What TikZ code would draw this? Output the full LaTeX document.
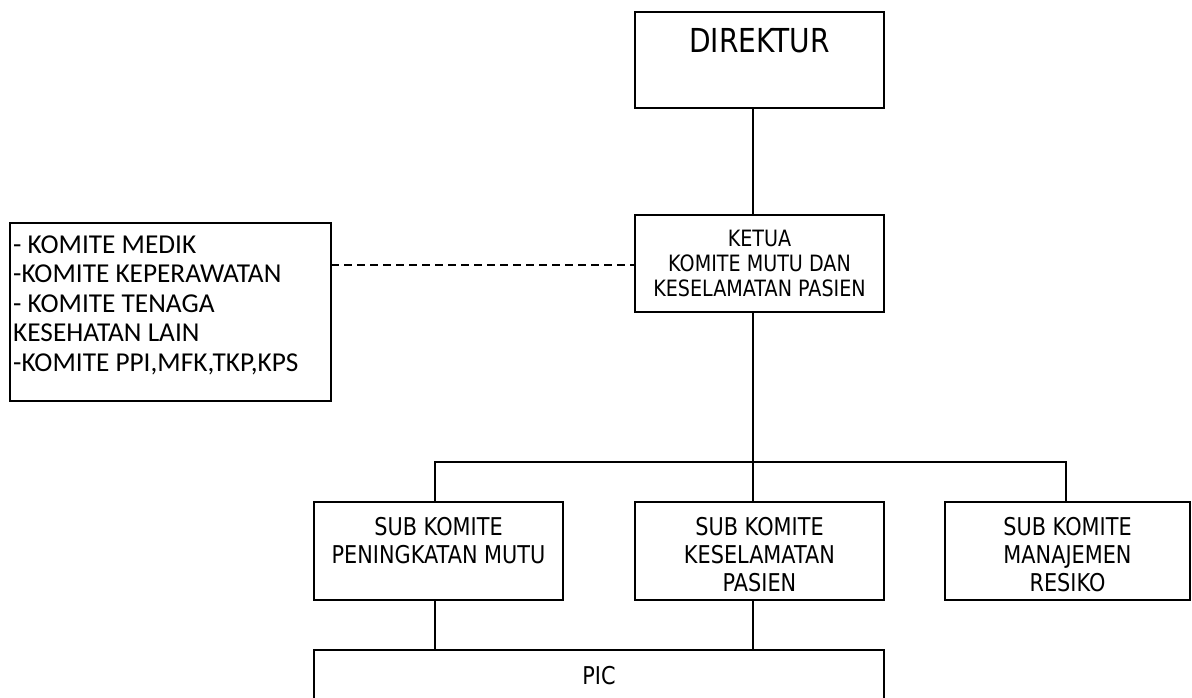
\documentclass[tikz,border=0pt]{standalone}
\usepackage{fontspec}
\setmainfont[FakeStretch=0.85]{DejaVu Sans}
\newfontfamily\calib{Carlito}
\usetikzlibrary{calc}
\tikzset{
  orgbox/.style={draw=black, line width=1.5pt, inner sep=0pt, outer sep=0pt, fill=white},
  conn/.style={draw=black, line width=1.5pt},
  dashconn/.style={draw=black, line width=1.5pt, dash pattern=on 8pt off 5pt},
  txt/.style={inner sep=0pt, align=center, font=\fontsize{24.5}{28}\selectfont},
}
\begin{document}
\begin{tikzpicture}[x=1pt,y=-1pt]
\useasboundingbox (0,0) rectangle (1192,698);
\clip (0,0) rectangle (1192,698);
% boxes
\node[orgbox, minimum width=249pt, minimum height=96pt] (dir) at (759.5,60) {};
\node[txt, font=\fontsize{33}{38}\selectfont] (dirtext) at (759.5,41) {DIREKTUR};
\node[orgbox, minimum width=249pt, minimum height=97pt] (ketua) at (759.5,263.5) {};
\node[txt, font=\fontsize{22.5}{25}\selectfont] (ketuatext) at (759.5,263) {KETUA\\KOMITE MUTU DAN\\KESELAMATAN PASIEN};
\node[orgbox, minimum width=321pt, minimum height=178pt] (left) at (170.5,312) {};
\node[inner sep=0pt, align=left, anchor=west, font=\calib\fontsize{27.3}{29.5}\selectfont] (lefttext) at (13,305) {- KOMITE MEDIK\\-KOMITE KEPERAWATAN\\- KOMITE TENAGA\\KESEHATAN LAIN\\-KOMITE PPI,MFK,TKP,KPS};
\node[orgbox, minimum width=249pt, minimum height=98pt] (box1) at (438.5,551) {};
\node[txt] (box1text) at (438.5,541) {SUB KOMITE\\PENINGKATAN MUTU};
\node[orgbox, minimum width=249pt, minimum height=98pt] (box2) at (759.5,551) {};
\node[txt] (box2text) at (759.5,555) {SUB KOMITE\\KESELAMATAN\\PASIEN};
\node[orgbox, minimum width=245pt, minimum height=98pt] (box3) at (1067.5,551) {};
\node[txt] (box3text) at (1067.5,555) {SUB KOMITE\\MANAJEMEN\\RESIKO};
\node[orgbox, minimum width=570pt, minimum height=80pt] (pic) at (599,690) {};
\node[txt] (pictext) at (599,676) {PIC};
% connector coordinates
\coordinate (cx) at (753,0);
\coordinate (d1) at (435,462);
\coordinate (d3) at (1066,462);
\coordinate (dy) at (0,265);
% connectors
\draw[conn] (dir.south -| cx) -- (ketua.north -| cx);
\draw[conn] (ketua.south -| cx) -- (box2.north -| cx);
\draw[conn] (box1.north -| d1) -- (d1) -- (d3) -- (box3.north -| d3);
\draw[dashconn] (left.east |- dy) -- (ketua.west |- dy);
\draw[conn] (box1.south -| d1) -- (pic.north -| d1);
\draw[conn] (box2.south -| cx) -- (pic.north -| cx);
\end{tikzpicture}
\end{document}
